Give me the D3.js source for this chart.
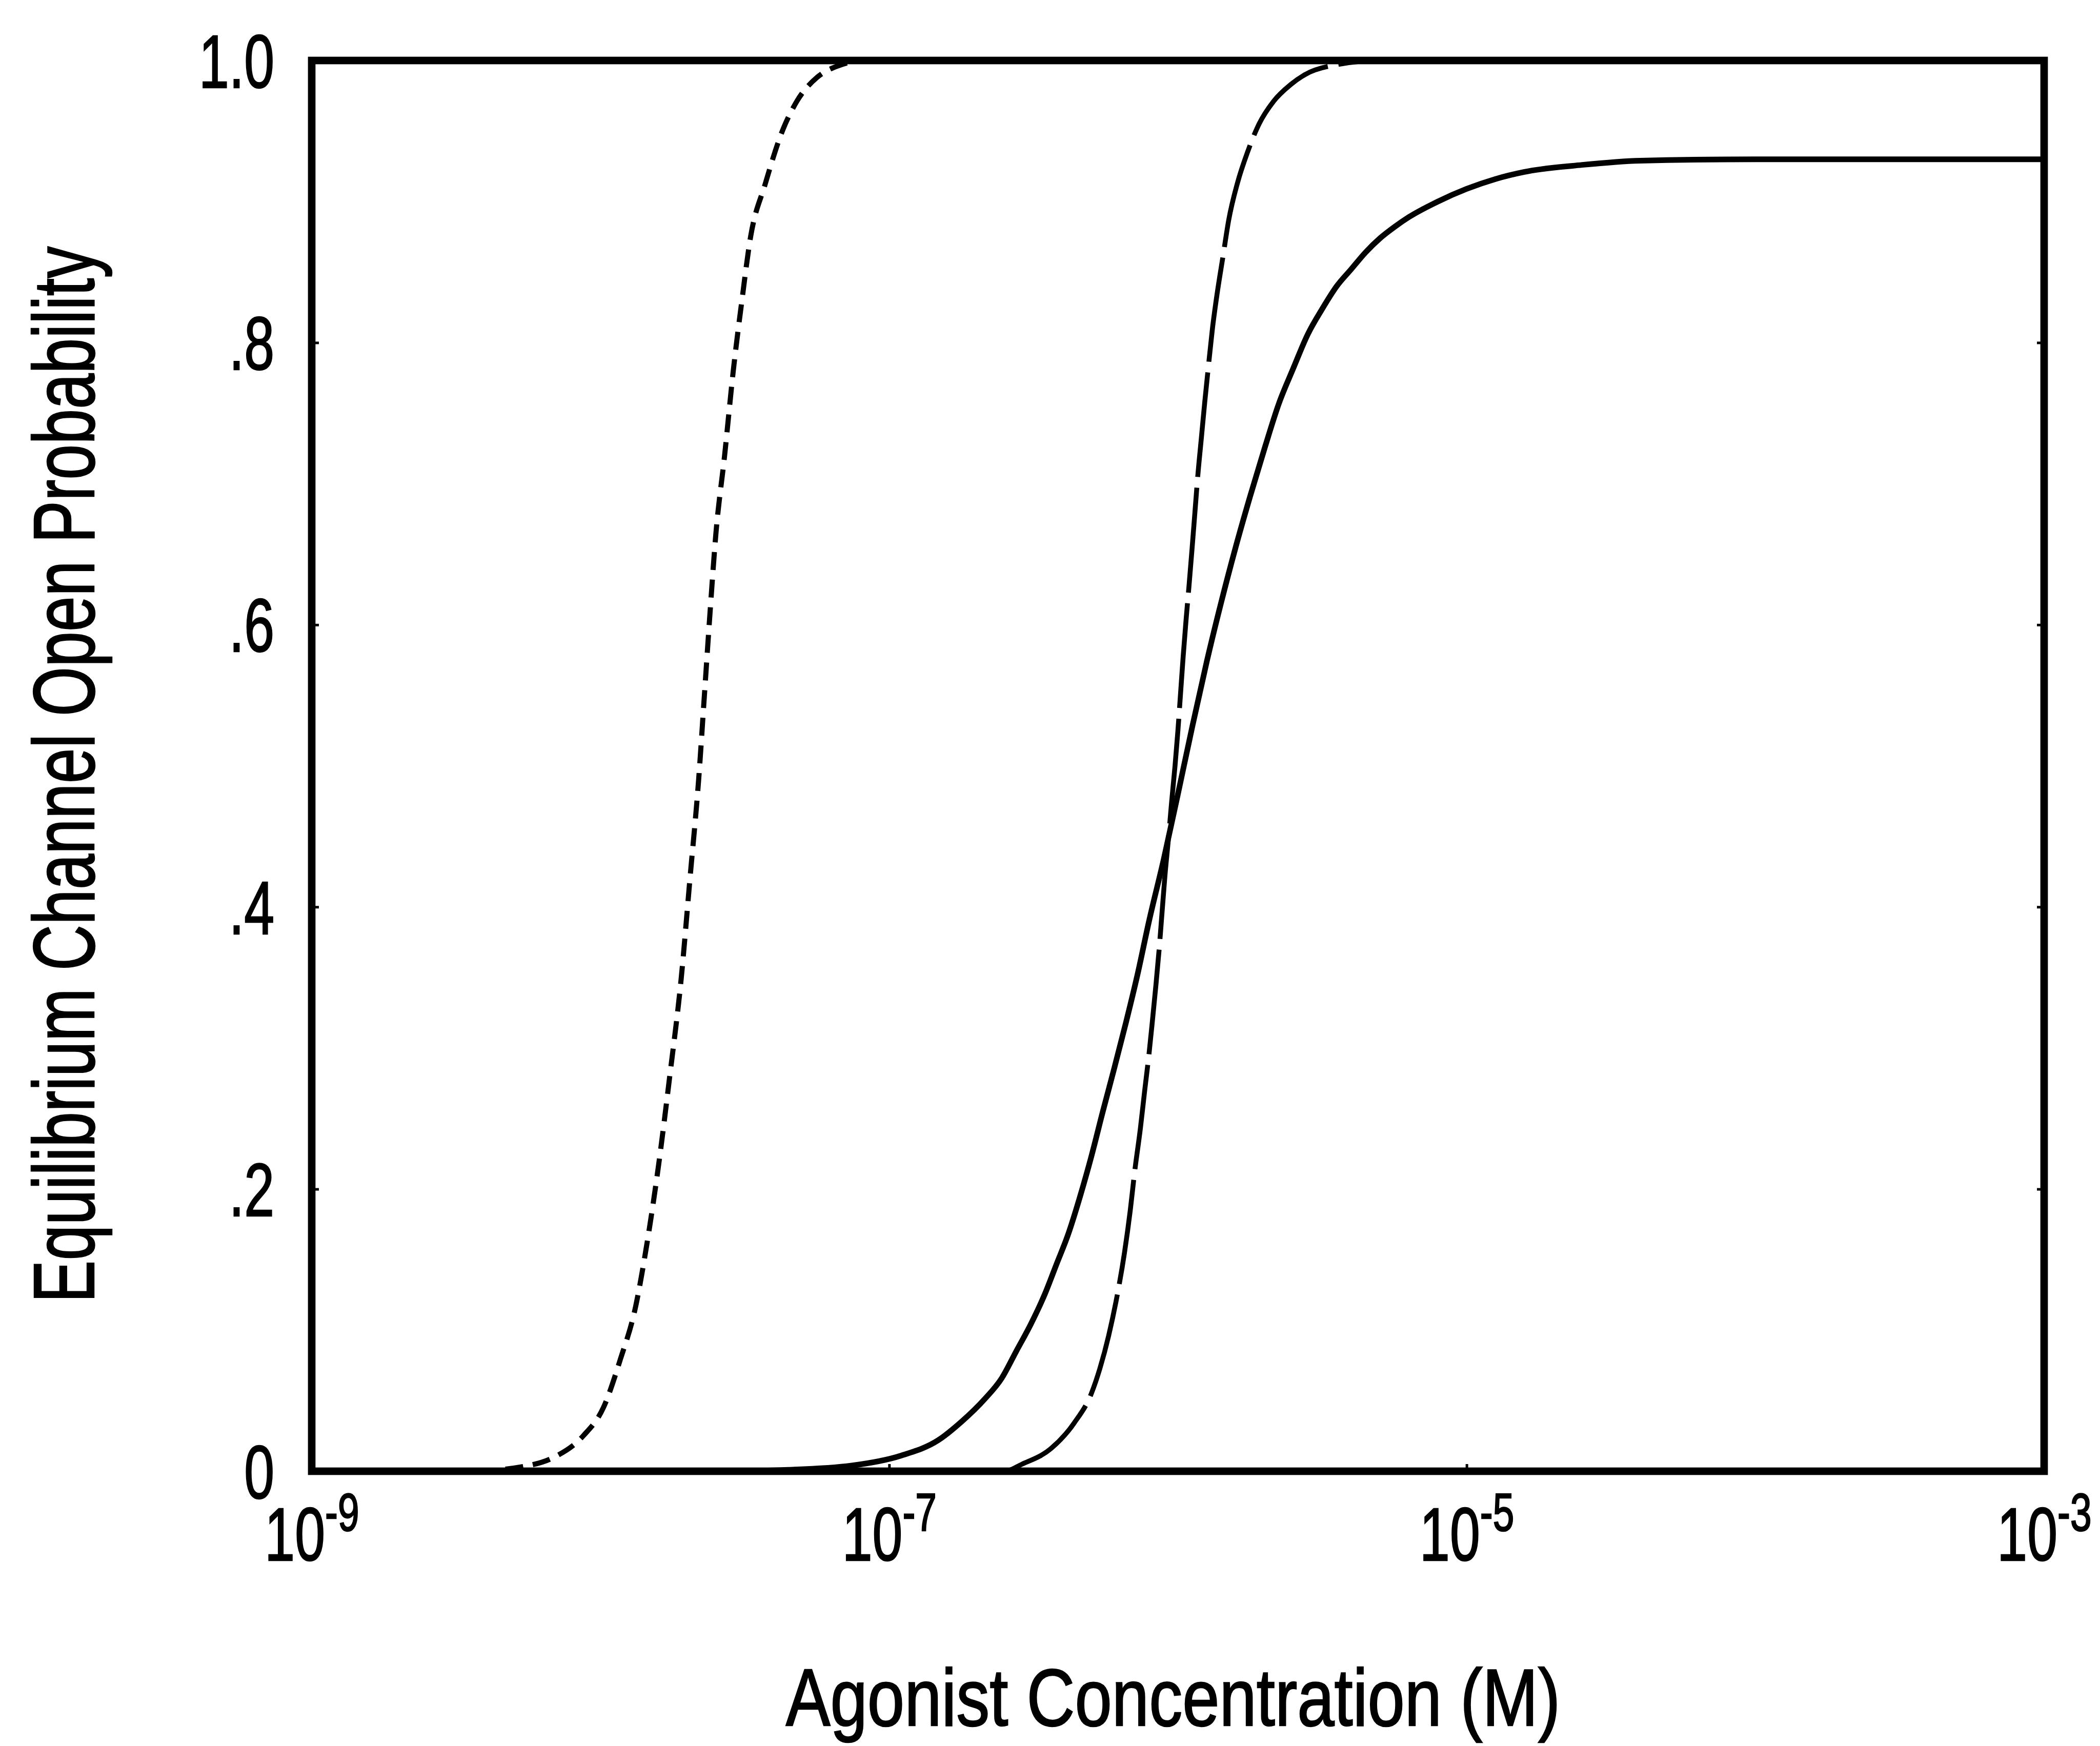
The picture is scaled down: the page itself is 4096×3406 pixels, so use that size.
<!DOCTYPE html>
<html>
<head>
<meta charset="utf-8">
<script src="https://cdn.jsdelivr.net/npm/d3@7/dist/d3.min.js"></script>
<style>
  html, body { margin: 0; padding: 0; background: #fff; }
  svg { display: block; }
  text { font-family: "Liberation Sans", Arial, sans-serif; fill: #000; stroke: #000; stroke-width: 2.5; }
</style>
</head>
<body>
<svg id="chart" width="4096" height="3406"></svg>
<script>
// Equilibrium channel open probability against agonist concentration (log axis)

const xTickExponents = [-9, -7, -5, -3];
const yTickValues = [0, 0.2, 0.4, 0.6, 0.8, 1.0];
const yTickLabels = ["0", ".2", ".4", ".6", ".8", "1.0"];

// Each point: [log10 agonist concentration (M), open probability]
const dottedCurve = [
  [-9.0, 0], [-8.45, 0], [-8.25, 0.004], [-8.16, 0.01], [-8.06, 0.025], [-7.99, 0.045],
  [-7.93, 0.08], [-7.88, 0.115], [-7.84, 0.16], [-7.80, 0.215], [-7.76, 0.28],
  [-7.72, 0.35], [-7.69, 0.42], [-7.66, 0.49], [-7.64, 0.55], [-7.62, 0.61],
  [-7.60, 0.665], [-7.57, 0.72], [-7.54, 0.78], [-7.51, 0.83], [-7.48, 0.875],
  [-7.43, 0.912], [-7.37, 0.95], [-7.32, 0.971], [-7.25, 0.988], [-7.18, 0.996],
  [-7.08, 1.0], [-3.0, 1.0]
];

const dashedCurve = [
  [-9.0, 0], [-6.6, 0], [-6.54, 0.005], [-6.44, 0.016], [-6.36, 0.034], [-6.30, 0.055],
  [-6.27, 0.073], [-6.24, 0.096], [-6.21, 0.125], [-6.185, 0.155], [-6.165, 0.185],
  [-6.15, 0.212], [-6.13, 0.243], [-6.115, 0.27], [-6.10, 0.296], [-6.088, 0.32],
  [-6.076, 0.345], [-6.065, 0.37], [-6.055, 0.396], [-6.045, 0.422], [-6.033, 0.448],
  [-6.022, 0.474], [-6.01, 0.5], [-6.0, 0.525], [-5.991, 0.551], [-5.982, 0.577],
  [-5.972, 0.603], [-5.961, 0.629], [-5.951, 0.654], [-5.941, 0.68], [-5.931, 0.706],
  [-5.919, 0.732], [-5.907, 0.758], [-5.894, 0.784], [-5.881, 0.809], [-5.864, 0.835],
  [-5.844, 0.861], [-5.824, 0.887], [-5.794, 0.913], [-5.759, 0.935], [-5.719, 0.955],
  [-5.669, 0.971], [-5.609, 0.983], [-5.56, 0.99], [-5.45, 0.997], [-5.3, 1.0], [-3.0, 1.0]
];

const solidCurve = [
  [-9.0, 0], [-7.6, 0], [-7.35, 0.001], [-7.13, 0.004], [-6.96, 0.011], [-6.83, 0.022],
  [-6.75, 0.035], [-6.67, 0.051], [-6.61, 0.066], [-6.56, 0.085], [-6.51, 0.104],
  [-6.46, 0.126], [-6.42, 0.147], [-6.38, 0.168], [-6.34, 0.194], [-6.30, 0.223],
  [-6.26, 0.255], [-6.22, 0.286], [-6.18, 0.318], [-6.14, 0.352], [-6.10, 0.39],
  [-6.05, 0.433], [-6.0, 0.48], [-5.95, 0.528], [-5.90, 0.574], [-5.85, 0.616],
  [-5.80, 0.655], [-5.75, 0.691], [-5.70, 0.725], [-5.65, 0.757], [-5.60, 0.782],
  [-5.55, 0.806], [-5.50, 0.824], [-5.45, 0.84], [-5.40, 0.852], [-5.35, 0.864],
  [-5.30, 0.874], [-5.25, 0.882], [-5.20, 0.889], [-5.10, 0.9], [-5.0, 0.909],
  [-4.9, 0.916], [-4.8, 0.921], [-4.6, 0.926], [-4.4, 0.929], [-4.0, 0.93], [-3.0, 0.93]
];

const xTitle = "Agonist Concentration (M)";
const yTitle = "Equilibrium Channel Open Probability";

const plot = { left: 608, right: 3987, top: 118, bottom: 2870 };
const frameWidth = 14.7;
const tickLen = 14;
const labelSquash = 0.72;

const svg = d3.select("#chart");

const x = d3.scaleLog().domain([1e-9, 1e-3]).range([plot.left, plot.right]);
const y = d3.scaleLinear().domain([0, 1]).range([plot.bottom, plot.top]);

const line = d3.line()
  .x(d => x(Math.pow(10, d[0])))
  .y(d => y(d[1]))
  .curve(d3.curveMonotoneX);

const curves = [
  { data: dottedCurve, width: 10, dash: "35 19" },
  { data: dashedCurve, width: 9.5, dash: "205 21" },
  { data: solidCurve, width: 11, dash: null }
];

svg.append("g")
  .selectAll("path")
  .data(curves)
  .join("path")
  .attr("d", d => line(d.data))
  .attr("fill", "none")
  .attr("stroke", "#000")
  .attr("stroke-width", d => d.width)
  .attr("stroke-linejoin", "round")
  .attr("stroke-dasharray", d => d.dash);

// Left axis: inward ticks with compact decimal labels
const yAxis = svg.append("g")
  .attr("transform", `translate(${plot.left},0)`)
  .call(d3.axisLeft(y)
    .tickValues(yTickValues)
    .tickFormat((d, i) => yTickLabels[i])
    .tickSize(-tickLen)
    .tickPadding(73));
yAxis.select(".domain").remove();
yAxis.selectAll(".tick line").attr("stroke", "#000").attr("stroke-width", 5);
yAxis.selectAll(".tick text")
  .attr("font-family", null)
  .attr("fill", null)
  .attr("font-size", 147)
  .attr("x", -73 / labelSquash)
  .attr("dy", 52)
  .attr("transform", `scale(${labelSquash},1)`);

// Right axis: tick marks only
const yAxisRight = svg.append("g")
  .attr("transform", `translate(${plot.right},0)`)
  .call(d3.axisRight(y).tickValues(yTickValues).tickFormat("").tickSize(-tickLen));
yAxisRight.select(".domain").remove();
yAxisRight.selectAll(".tick line").attr("stroke", "#000").attr("stroke-width", 5);

// Bottom axis: decade labels written as powers of ten
const xAxis = svg.append("g")
  .attr("transform", `translate(0,${plot.bottom})`)
  .call(d3.axisBottom(x)
    .tickValues(xTickExponents.map(e => Math.pow(10, e)))
    .tickFormat("")
    .tickSize(-tickLen));
xAxis.select(".domain").remove();
xAxis.selectAll(".tick line").attr("stroke", "#000").attr("stroke-width", 5);
xAxis.selectAll(".tick text").each(function (d, i) {
  const t = d3.select(this)
    .attr("font-family", null)
    .attr("fill", null)
    .attr("font-size", 147)
    .attr("y", 174)
    .attr("dy", 0)
    .attr("text-anchor", "middle")
    .attr("transform", `scale(${labelSquash},1)`);
  t.text(null);
  t.append("tspan").text("10");
  t.append("tspan").attr("font-size", 104).attr("dy", -58).text(String(xTickExponents[i]));
});

// Plot frame
svg.append("rect")
  .attr("x", plot.left)
  .attr("y", plot.top)
  .attr("width", plot.right - plot.left)
  .attr("height", plot.bottom - plot.top)
  .attr("fill", "none")
  .attr("stroke", "#000")
  .attr("stroke-width", frameWidth)
  .attr("stroke-linejoin", "miter");

// Axis titles, set in a narrow face by squeezing horizontally
svg.append("text")
  .attr("transform", `translate(2288,3366) scale(0.823,1)`)
  .attr("text-anchor", "middle")
  .attr("font-size", 158)
  .text(xTitle);

svg.append("text")
  .attr("transform", `translate(183,1511) rotate(-90) scale(0.738,1)`)
  .attr("text-anchor", "middle")
  .attr("font-size", 168)
  .text(yTitle);
</script>
</body>
</html>
